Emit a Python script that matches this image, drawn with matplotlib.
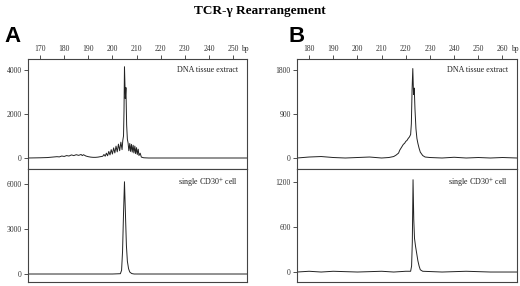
import numpy as np
import matplotlib
matplotlib.use('Agg')
import matplotlib.pyplot as plt
import matplotlib.transforms as mtransforms

plt.rcParams['font.family'] = ['Liberation Serif', 'DejaVu Serif']
plt.rcParams['mathtext.fontset'] = 'stix'

# panel A, DNA tissue extract (bp, signal)
a_top_bp = [165, 170, 173, 175, 177, 178, 179, 180, 181, 182, 183, 184, 185, 186, 187, 187.5,
            188, 189, 190, 191, 192, 193, 194, 195, 196, 196.5, 197, 197.5, 198, 198.5, 199,
            199.5, 200, 200.5, 201, 201.5, 202, 202.5, 203, 203.5, 204, 204.3, 204.6, 204.8,
            205, 205.35, 205.6, 205.9, 206.2, 206.5, 206.8, 207.2, 207.5, 207.9, 208.2, 208.6,
            208.9, 209.3, 209.6, 210, 210.3, 210.7, 211, 211.5, 212, 213, 215, 230, 256]
a_top_sig = [0, 10, 20, 40, 60, 50, 90, 70, 110, 90, 140, 110, 150, 120, 160, 110,
             150, 90, 60, 40, 30, 30, 40, 60, 80, 160, 80, 220, 100, 300, 140,
             380, 180, 460, 230, 540, 280, 630, 330, 720, 380, 800, 1000, 2100,
             4150, 2700, 3200, 1500, 850, 680, 330, 660, 300, 620, 270, 580,
             230, 540, 200, 470, 160, 400, 110, 220, 40, 10, 0, 0, 0]

# panel A, single CD30+ cell
a_bot_bp = [165, 180, 190, 200, 203.3, 203.8, 204.2, 204.6, 205, 205.4, 205.8, 206.2, 206.7,
            207.2, 208, 209, 230, 256]
a_bot_sig = [0, 0, 0, 0, 20, 250, 1500, 4000, 6150, 4000, 1900, 850, 350, 130,
             30, 0, 0, 0]

# panel B, DNA tissue extract
b_top_bp = [175, 180, 185, 190, 195, 200, 205, 210, 213, 215, 216, 217, 217.5, 218, 218.5,
            219, 219.5, 220, 220.5, 221, 221.5, 222, 222.3, 222.6, 222.9, 223.2, 223.5,
            223.8, 224.2, 224.6, 225, 225.5, 226, 227, 228, 230, 235, 240, 245, 250, 255,
            260, 266]
b_top_sig = [0, 20, 30, 10, 0, 10, 20, 0, 10, 30, 60, 100, 160, 200, 240,
             280, 300, 340, 360, 400, 430, 480, 700, 1400, 1830, 1300, 1430,
             1000, 600, 400, 300, 200, 120, 50, 20, 10, 0, 15, 0, 10, 0,
             10, 0]

# panel B, single CD30+ cell
b_bot_bp = [175, 180, 185, 190, 200, 210, 215, 220, 222, 222.4, 222.7, 223, 223.3, 223.6,
            224, 224.5, 225, 225.5, 226, 227, 235, 245, 255, 266]
b_bot_sig = [0, 10, 0, 10, 0, 10, 0, 10, 10, 80, 400, 1230, 700, 450,
             350, 250, 150, 80, 30, 10, 0, 10, 0, 0]

a_bp_ticks = [170, 180, 190, 200, 210, 220, 230, 240, 250]
b_bp_ticks = [180, 190, 200, 210, 220, 230, 240, 250, 260]

W, H = 520, 286
fig = plt.figure(figsize=(W / 100, H / 100), dpi=100)


def px_axes(x0, y0, x1, y1):
    return fig.add_axes([x0 / W, 1 - y1 / H, (x1 - x0) / W, (y1 - y0) / H])


def style(ax):
    for s in ax.spines.values():
        s.set_color('#444444')
        s.set_linewidth(0.8)
    ax.tick_params(axis='y', direction='out', length=3, width=0.6, labelsize=5.5,
                   pad=1.5, colors='#333333')


def panel(x0, x1, xlim, ticks, top_bp, top_sig, bot_bp, bot_sig, top_lim, top_yt,
          bot_lim, bot_yt, letter, letter_x):
    ax1 = px_axes(x0, 59, x1, 169)
    ax2 = px_axes(x0, 169, x1, 282)
    for ax in (ax1, ax2):
        style(ax)
        ax.set_xlim(*xlim)
    ax1.plot(top_bp, top_sig, color='#222222', lw=0.7)
    ax2.plot(bot_bp, bot_sig, color='#222222', lw=0.7)
    ax1.set_ylim(*top_lim)
    ax2.set_ylim(*bot_lim)
    ax1.set_yticks(top_yt)
    ax2.set_yticks(bot_yt)
    ax1.xaxis.tick_top()
    ax1.set_xticks(ticks)
    ax1.tick_params(axis='x', direction='out', length=3, width=0.6, labelsize=5.5,
                    pad=1, colors='#333333')
    ax2.set_xticks([])
    trans = mtransforms.blended_transform_factory(ax1.transData, ax1.transAxes)
    trans = trans + mtransforms.ScaledTranslation(0, 4 / 72, fig.dpi_scale_trans)
    ax1.text(ticks[-1] + 3.4, 1.0, 'bp', transform=trans, fontsize=5.5,
             va='bottom', ha='left', color='#333333')
    ax1.text(0.96, 0.9, 'DNA tissue extract', transform=ax1.transAxes,
             fontsize=5.8, ha='right', va='center', color='#222222')
    ax2.text(0.96, 0.88, r'single CD30$^{+}$ cell', transform=ax2.transAxes,
             fontsize=5.8, ha='right', va='center', color='#222222')
    fig.text(letter_x / W, 1 - 36 / H, letter, fontsize=16, fontweight='bold',
             family='Liberation Sans', ha='left', va='center')


panel(28, 247, (165, 255.8), a_bp_ticks, a_top_bp, a_top_sig, a_bot_bp, a_bot_sig,
      (-500, 4500), [0, 2000, 4000], (-533, 7000), [0, 3000, 6000], 'A', 4)
panel(297, 517, (175, 266), b_bp_ticks, b_top_bp, b_top_sig, b_bot_bp, b_bot_sig,
      (-225, 2025), [0, 900, 1800], (-133, 1373), [0, 600, 1200], 'B', 289)

fig.text(0.5, 1 - 11 / H, 'TCR-\u03b3 Rearrangement', fontsize=9.5, fontweight='bold',
         ha='center', va='center')

fig.savefig('out.png', dpi=100)
